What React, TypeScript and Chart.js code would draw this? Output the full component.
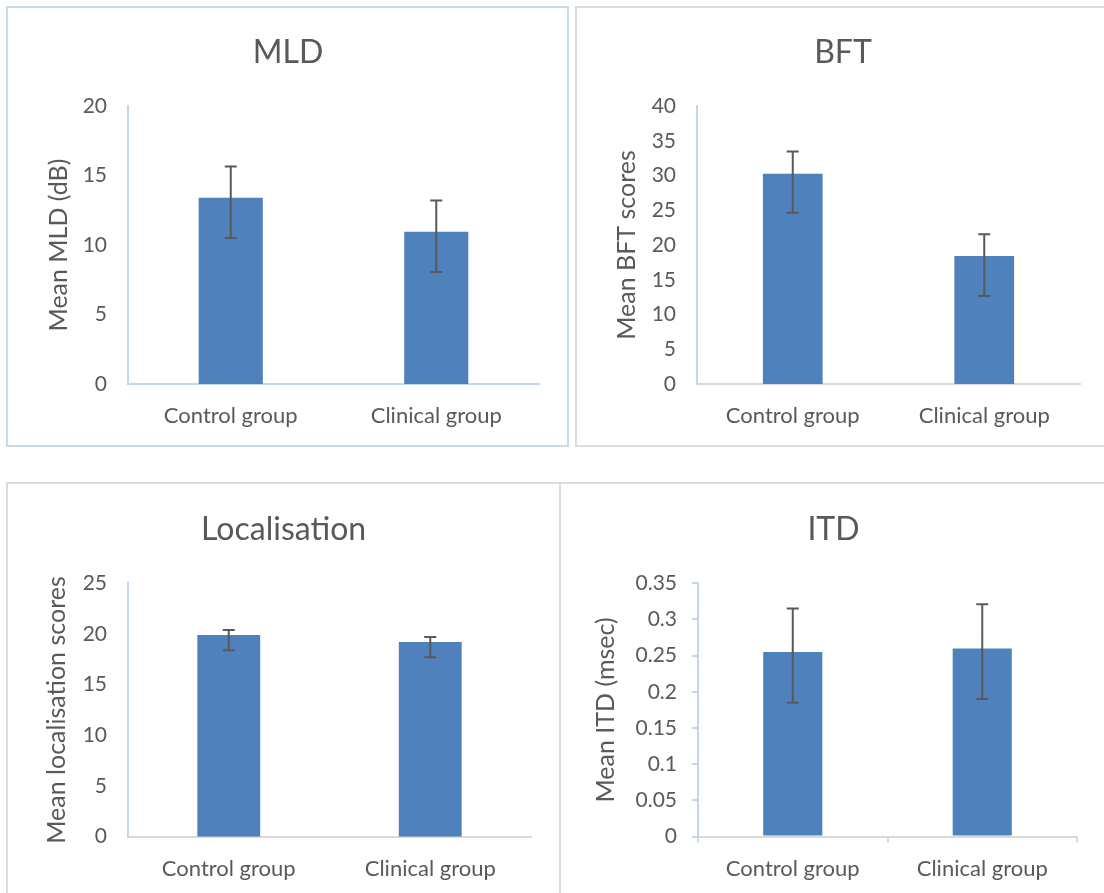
import React, { useEffect, useRef } from "react";
import { Chart, registerables } from "chart.js";

Chart.register(...registerables);

// ---------- data ----------
const categories = ["Control group", "Clinical group"];

const mldMeans = [13.4, 10.95];
const mldUpper = [15.65, 13.2];
const mldLower = [10.5, 8.05];

const bftMeans = [30.25, 18.4];
const bftUpper = [33.45, 21.55];
const bftLower = [24.65, 12.65];

const locMeans = [19.9, 19.2];
const locUpper = [20.4, 19.7];
const locLower = [18.4, 17.7];

const itdMeans = [0.255, 0.26];
const itdUpper = [0.315, 0.321];
const itdLower = [0.185, 0.19];

const FONT = "Lato, 'Open Sans', 'DejaVu Sans', sans-serif";
const TEXT = "#595959";
const BAR = "#4f81bd";
const AXIS_BLUE = "#c4d6ee";
const AXIS_GREY = "#d9d9d9";

const errorBarPlugin = {
  id: "errorBars",
  afterDatasetsDraw(chart: any, _args: any, opts: any) {
    const { ctx } = chart;
    const meta = chart.getDatasetMeta(0);
    const ys = chart.scales.y;
    ctx.save();
    ctx.strokeStyle = opts.color;
    ctx.lineWidth = opts.width;
    meta.data.forEach((bar: any, i: number) => {
      const x = bar.x;
      const yHi = ys.getPixelForValue(opts.upper[i]);
      const yLo = ys.getPixelForValue(opts.lower[i]);
      const c = opts.cap / 2;
      ctx.beginPath();
      ctx.moveTo(x, yHi);
      ctx.lineTo(x, yLo);
      ctx.moveTo(x - c, yHi);
      ctx.lineTo(x + c, yHi);
      ctx.moveTo(x - c, yLo);
      ctx.lineTo(x + c, yLo);
      ctx.stroke();
    });
    ctx.restore();
  },
};

const panelTitlePlugin = {
  id: "panelTitle",
  afterDraw(chart: any, _args: any, opts: any) {
    const { ctx } = chart;
    ctx.save();
    ctx.font = `${opts.size}px ${FONT}`;
    ctx.fillStyle = TEXT;
    ctx.textAlign = "center";
    ctx.textBaseline = "alphabetic";
    ctx.fillText(opts.text, opts.x, opts.y);
    ctx.restore();
  },
};

type PanelProps = {
  title: string;
  yTitle: string;
  means: number[];
  upper: number[];
  lower: number[];
  yMax: number;
  yStep: number;
  left: number;
  top: number;
  boxW: number;
  boxH: number;
  borderColor: string;
  canvasW: number;
  canvasH: number;
  yAxisW: number;
  xAxisH: number;
  padTop: number;
  padRight: number;
  titleX: number;
  titleY: number;
  yTitlePad: number;
  xColor: string;
  withTicks: boolean;
};

function Panel(p: PanelProps) {
  const ref = useRef<HTMLCanvasElement | null>(null);
  useEffect(() => {
    if (!ref.current) return;
    const chart = new Chart(ref.current, {
      type: "bar",
      data: {
        labels: categories,
        datasets: [
          {
            data: p.means,
            backgroundColor: BAR,
            borderWidth: 0,
            barPercentage: 0.312,
            categoryPercentage: 1,
          },
        ],
      },
      options: {
        responsive: false,
        animation: false,
        layout: { padding: { top: p.padTop, right: p.padRight, left: 0, bottom: 0 } },
        plugins: {
          legend: { display: false },
          tooltip: { enabled: false },
          title: { display: false },
          errorBars: { upper: p.upper, lower: p.lower, color: TEXT, width: 2, cap: 12 },
          panelTitle: { text: p.title, x: p.titleX, y: p.titleY, size: 32 },
        } as any,
        scales: {
          x: {
            afterFit: (s: any) => {
              s.height = p.xAxisH;
            },
            grid: {
              display: p.withTicks,
              drawOnChartArea: false,
              drawTicks: p.withTicks,
              tickLength: 6,
              color: p.xColor,
              lineWidth: 2,
              offset: true,
            },
            border: { display: true, color: p.xColor, width: 2 },
            ticks: {
              color: TEXT,
              font: { family: FONT, size: 22 },
              padding: p.withTicks ? 13 : 19,
              maxRotation: 0,
            },
          },
          y: {
            min: 0,
            max: p.yMax,
            afterFit: (s: any) => {
              s.width = p.yAxisW;
            },
            grid: {
              display: p.withTicks,
              drawOnChartArea: false,
              drawTicks: p.withTicks,
              tickLength: 6,
              color: AXIS_BLUE,
              lineWidth: 2,
            },
            border: { display: true, color: AXIS_BLUE, width: 2 },
            ticks: {
              stepSize: p.yStep,
              color: TEXT,
              font: { family: FONT, size: 21 },
              padding: p.withTicks ? 15 : 21,
              callback: (v: any) => String(Number(Number(v).toFixed(3))),
            },
            title: {
              display: true,
              text: p.yTitle,
              color: TEXT,
              font: { family: FONT, size: 25 },
              padding: { top: p.yTitlePad, bottom: 0 },
            },
          },
        },
      },
      plugins: [errorBarPlugin, panelTitlePlugin],
    });
    return () => chart.destroy();
  }, []);

  return (
    <div
      style={{
        position: "absolute",
        left: p.left,
        top: p.top,
        width: p.boxW,
        height: p.boxH,
        boxSizing: "border-box",
        border: `2px solid ${p.borderColor}`,
        background: "#fff",
      }}
    >
      <canvas
        ref={ref}
        width={p.canvasW}
        height={p.canvasH}
        style={{ position: "absolute", left: 0, top: 0, display: "block" }}
      />
    </div>
  );
}

export default function App() {
  return (
    <div
      style={{
        position: "absolute",
        left: 0,
        top: 0,
        width: 1104,
        height: 893,
        overflow: "hidden",
        background: "#fff",
      }}
    >
      <Panel
        title="MLD"
        yTitle="Mean MLD (dB)"
        means={mldMeans}
        upper={mldUpper}
        lower={mldLower}
        yMax={20}
        yStep={5}
        left={6}
        top={6}
        boxW={563}
        boxH={441}
        borderColor="#cad9ec"
        canvasW={559}
        canvasH={437}
        yAxisW={120}
        xAxisH={61}
        padTop={98}
        padRight={28}
        titleX={280}
        titleY={55}
        yTitlePad={36}
        xColor={AXIS_BLUE}
        withTicks={false}
      />
      <Panel
        title="BFT"
        yTitle="Mean BFT scores"
        means={bftMeans}
        upper={bftUpper}
        lower={bftLower}
        yMax={40}
        yStep={5}
        left={575}
        top={6}
        boxW={600}
        boxH={441}
        borderColor="#dcdcdc"
        canvasW={527}
        canvasH={437}
        yAxisW={120}
        xAxisH={61}
        padTop={98}
        padRight={24}
        titleX={266}
        titleY={55}
        yTitlePad={35}
        xColor={AXIS_GREY}
        withTicks={false}
      />
      <Panel
        title="Localisation"
        yTitle="Mean localisation scores"
        means={locMeans}
        upper={locUpper}
        lower={locLower}
        yMax={25}
        yStep={5}
        left={6}
        top={482}
        boxW={555}
        boxH={500}
        borderColor="#dcdcdc"
        canvasW={551}
        canvasH={409}
        yAxisW={120}
        xAxisH={56.3}
        padTop={99.3}
        padRight={28}
        titleX={275.6}
        titleY={56}
        yTitlePad={34}
        xColor={AXIS_GREY}
        withTicks={false}
      />
      <Panel
        title="ITD"
        yTitle="Mean ITD (msec)"
        means={itdMeans}
        upper={itdUpper}
        lower={itdLower}
        yMax={0.35}
        yStep={0.05}
        left={559}
        top={482}
        boxW={600}
        boxH={500}
        borderColor="#dcdcdc"
        canvasW={543}
        canvasH={409}
        yAxisW={137}
        xAxisH={56.5}
        padTop={99.3}
        padRight={27}
        titleX={272.5}
        titleY={56}
        yTitlePad={30}
        xColor={AXIS_GREY}
        withTicks={true}
      />
    </div>
  );
}
